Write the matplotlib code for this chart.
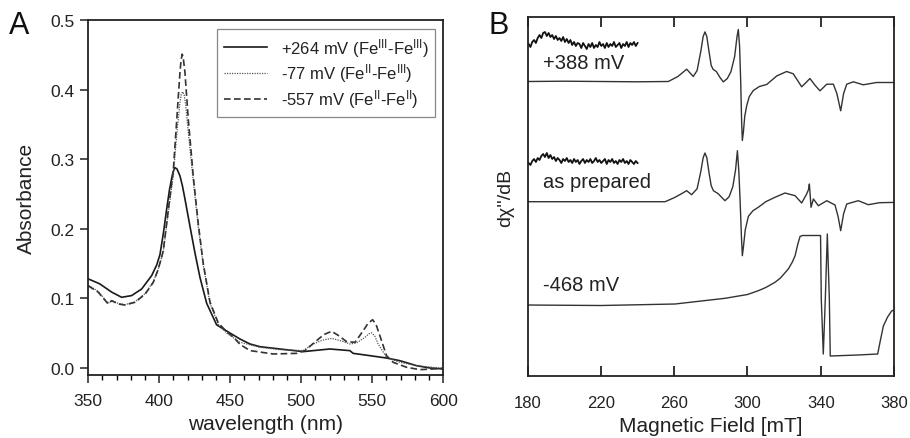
import numpy as np
import matplotlib
matplotlib.use("Agg")
import matplotlib.pyplot as plt

plt.rcParams['font.family'] = ['Liberation Sans', 'DejaVu Sans']
plt.rcParams['mathtext.fontset'] = 'custom'
plt.rcParams['mathtext.rm'] = 'Liberation Sans'
plt.rcParams['mathtext.it'] = 'Liberation Sans:italic'
plt.rcParams['mathtext.bf'] = 'Liberation Sans:bold'

# ---------------- Panel A data (UV-vis) ----------------
wl_ox = [350, 358, 366.5, 373.5, 380.5, 387.6, 394.6, 398.2, 400.5, 403, 405.2, 407.2, 408.7,
         409.8, 411, 412.5, 414.6, 416.3, 418.1, 421.6, 425.1, 428.7, 433.4, 440.4, 450,
         456.8, 463.9, 470.9, 485, 501.4, 520.2, 534.3, 536.6, 548.4, 560.1, 569.5, 581.3,
         590.6, 600]
abs_ox = [0.128, 0.121, 0.109, 0.1016, 0.104, 0.1135, 0.1326, 0.148, 0.163, 0.195, 0.228,
          0.256, 0.272, 0.282, 0.288, 0.286, 0.276, 0.262, 0.243, 0.204, 0.166, 0.13, 0.093,
          0.062, 0.05, 0.0417, 0.0345, 0.0306, 0.0273, 0.0235, 0.0273, 0.0249, 0.021, 0.0177,
          0.0143, 0.0105, 0.0033, 0.0, -0.0014]

wl_mid = [350, 357, 364, 366.5, 371, 375.8, 382.9, 390, 395.8, 399.3, 402.8, 406.3, 409.9,
          412.3, 414.6, 415.5, 416.5, 417.5, 418.5, 420.5, 424, 427.5, 431, 435.7, 441.5,
          447.5, 456.8, 470.9, 485, 501.4, 508.5, 515, 521.4, 528, 534.3, 539, 544.9, 547.5,
          549.6, 551.8, 554.2, 560.1, 569.5, 581.3, 600]
abs_mid = [0.119, 0.11, 0.093, 0.097, 0.093, 0.091, 0.095, 0.107, 0.124, 0.142, 0.167, 0.222,
           0.278, 0.335, 0.382, 0.393, 0.397, 0.393, 0.38, 0.338, 0.268, 0.203, 0.148, 0.093,
           0.063, 0.05, 0.037, 0.0297, 0.0263, 0.025, 0.0345, 0.040, 0.0426, 0.039, 0.0345,
           0.036, 0.044, 0.049, 0.0505, 0.046, 0.0345, 0.0153, 0.0081, 0.0033, -0.0005]

wl_red = [350, 357, 364, 366.5, 371, 375.8, 382.9, 390, 395.8, 399.3, 402.8, 406.3, 409.9,
          412.3, 414.6, 415.4, 416.2, 417, 418.1, 420.5, 424, 427.5, 431, 435.7, 441.5, 447.5,
          452, 456.8, 463.9, 480.3, 496.8, 502.6, 510.8, 516, 521.4, 526, 532, 537.9, 543.7,
          547, 550.3, 552.8, 555.4, 560.1, 564.8, 574.2, 583.6, 593, 600]
abs_red = [0.118, 0.109, 0.092, 0.0967, 0.092, 0.0905, 0.0944, 0.106, 0.123, 0.142, 0.168,
           0.226, 0.284, 0.356, 0.425, 0.443, 0.451, 0.444, 0.425, 0.356, 0.275, 0.207, 0.15,
           0.095, 0.065, 0.052, 0.045, 0.034, 0.025, 0.0201, 0.021, 0.025, 0.0393, 0.048,
           0.0527, 0.047, 0.0378, 0.0369, 0.0536, 0.064, 0.0694, 0.062, 0.0465, 0.0177, 0.0081,
           0.001, -0.0024, -0.0014, -0.0005]

labels_A = [r'+264 mV (Fe$^{\rm III}$-Fe$^{\rm III}$)',
            r'-77 mV (Fe$^{\rm II}$-Fe$^{\rm III}$)',
            r'-557 mV (Fe$^{\rm II}$-Fe$^{\rm II}$)']

# ---------------- Panel B data (EPR, arbitrary units) ----------------
# +388 mV
field_388 = [180, 200, 220, 240, 256.8, 262, 266.8, 270.4, 272.5, 274.5, 275.8, 276.8, 277.8,
             279, 280.2, 281.3, 283, 285, 286.8, 289, 291, 293, 294.3, 295, 295.7, 296.3,
             296.8, 297.2, 297.8, 298.5, 299.6, 301, 303.2, 306.5, 310.5, 316, 321.4, 325,
             329.6, 332, 334.1, 337, 339.6, 343.3, 346.9, 348.8, 350.9, 352.5, 354.2, 357.8,
             363.2, 370.5, 380]
sig_388 = [0, 0.3, 0, -0.3, 0, 5, 12.3, 5, 11, 30, 45, 49.6, 45, 30, 16, 12, 10, 4, -0.4, 3,
           10, 25, 45, 52, 35, 0, -40, -59, -50, -35, -24, -15, -9, -5, -3, 5.6, 10, 7.7, -5.3,
           -1, 3, -4, -9.3, -2.7, -2.7, -12, -29.3, -12, -2.7, -0.3, -3.3, -1, -1]

# as prepared
field_asp = [180, 220, 255, 260, 264, 266.8, 269.5, 272.5, 274.5, 275.8, 276.8, 277.8, 279,
             280.2, 281.4, 284, 287.7, 290, 292, 293.5, 294.5, 295.3, 296, 296.7, 297.2,
             297.8, 298.8, 300.5, 303, 305.9, 310, 315, 320.5, 326, 329.6, 332.3, 333.3,
             333.8, 334.3, 334.7, 336, 338.7, 343.3, 347.8, 349.5, 350.9, 352.5, 354.2, 360.5,
             366, 372, 380]
sig_asp = [0, 0, 0, 4, 8, 11, 7, 13, 30, 44, 48.7, 44, 29, 16, 11, 8, 1, 5, 15, 32, 51, 30, 0,
           -35, -54, -45, -28, -14.6, -9, -5.6, 0, 4.4, 8.7, 6, -1.3, 7.7, 12, 17.7, 5, -5.6,
           2.7, -4, 1, -3.3, -15, -29, -12, -2.3, 1, -3, -1, -0.7]

# -468 mV (absolute height)
field_468 = [180, 220, 260.4, 287.7, 300, 305.9, 310, 315, 318, 322.3, 324.5, 326, 327.5,
             328.7, 330, 339.9, 340.3, 341.4, 342.5, 343.6, 344.7, 345.2, 360, 371.1, 372.5,
             374.2, 376.5, 378.7, 380]
sig_468 = [71, 70.5, 72, 77.7, 81.5, 85.3, 88.5, 93.7, 98, 107, 114, 120.3, 132, 139.5,
           140.5, 140.5, 77, 22, 77, 142, 77, 20, 21, 22, 35, 50, 59, 65, 66]

# noisy zoomed insets (180-240 mT)
noise_388 = [332, 329, 334, 336, 333, 338, 341, 338, 343, 344, 340, 343, 339, 341, 337, 340,
             336, 338, 335, 339, 334, 337, 333, 336, 331, 334, 330, 333, 332, 328, 333, 330,
             327, 332, 329, 333, 328, 331, 329, 334, 330, 332, 328, 333, 329, 332, 330, 334,
             329, 331, 333, 328, 332, 330, 334, 329, 333, 331, 334, 330, 333]
noise_asp = [213, 211, 215, 217, 214, 218, 216, 220, 222, 219, 223, 218, 221, 217, 219, 215,
             218, 216, 213, 217, 215, 218, 214, 216, 213, 217, 214, 216, 212, 215, 217, 213,
             216, 214, 217, 213, 215, 218, 214, 216, 213, 215, 217, 212, 216, 214, 217, 213,
             215, 212, 216, 214, 217, 213, 215, 212, 216, 214, 212, 215, 213]

base_388 = 294.5
base_asp = 174.3
labels_B = ['+388 mV', 'as prepared', '-468 mV']

# ---------------- figure ----------------
fig = plt.figure(figsize=(9.10, 4.39), dpi=100)

# Panel A
axA = fig.add_axes([0.097, 0.1435, 0.390, 0.8085])
axA.plot(wl_ox, abs_ox, color='#1a1a1a', lw=1.2, ls='-', label=labels_A[0])
axA.plot(wl_mid, abs_mid, color='#555555', lw=0.9, ls=(0, (1, 1)), label=labels_A[1])
axA.plot(wl_red, abs_red, color='#333333', lw=1.2, ls=(0, (4, 2)), label=labels_A[2])
axA.set_xlim(350, 600)
axA.set_ylim(-0.0101, 0.5)
axA.set_xticks([350, 400, 450, 500, 550, 600])
axA.set_xticks(np.arange(350, 601, 10), minor=True)
axA.set_yticks([0.0, 0.1, 0.2, 0.3, 0.4, 0.5])
axA.yaxis.set_major_formatter(matplotlib.ticker.FormatStrFormatter('%.1f'))
axA.tick_params(axis='both', which='major', direction='out', length=6, width=1.1,
                labelsize=12.5, colors='#222222')
axA.tick_params(axis='x', which='minor', direction='out', length=3.5, width=1.0)
axA.tick_params(axis='x', which='major', pad=7)
axA.tick_params(axis='y', which='major', pad=4)
for s in axA.spines.values():
    s.set_linewidth(1.3)
    s.set_color('#222222')
axA.set_xlabel('wavelength (nm)', fontsize=15, labelpad=4, color='#222222')
axA.set_ylabel('Absorbance', fontsize=15, labelpad=10, color='#222222')
leg = axA.legend(loc='upper right', bbox_to_anchor=(0.978, 0.975), borderaxespad=0,
                 fontsize=12, handlelength=2.6, labelspacing=0.18, handletextpad=0.8,
                 borderpad=0.4, fancybox=False, framealpha=1, edgecolor='#888888')
leg.get_frame().set_linewidth(0.9)
for t in leg.get_texts():
    t.set_color('#222222')

# Panel B
axB = fig.add_axes([0.5799, 0.1412, 0.4025, 0.8178])
lcB = '#333333'
axB.plot(field_388, np.array(sig_388) + base_388, color=lcB, lw=1.0)
axB.plot(field_asp, np.array(sig_asp) + base_asp, color=lcB, lw=1.0)
axB.plot(field_468, sig_468, color=lcB, lw=1.0)
axB.plot(np.linspace(180.5, 240, len(noise_388)), noise_388, color='#111111', lw=1.3)
axB.plot(np.linspace(180.5, 240, len(noise_asp)), noise_asp, color='#111111', lw=1.3)
axB.set_xlim(180, 380)
axB.set_ylim(0, 359)
axB.set_xticks([180, 220, 260, 300, 340, 380])
axB.set_yticks([])
axB.tick_params(axis='x', which='major', direction='in', length=7, width=1.3,
                top=True, bottom=True, labelsize=12, pad=14, colors='#222222')
for s in axB.spines.values():
    s.set_linewidth(1.3)
    s.set_color('#222222')
axB.set_xlabel('Magnetic Field [mT]', fontsize=15, labelpad=4, color='#222222')
axB.set_ylabel("d\u03c7''/dB", fontsize=14, labelpad=10, color='#222222')
axB.text(188.5, 314, labels_B[0], fontsize=14.5, va='center', ha='left', color='#222222')
axB.text(188.5, 195, labels_B[1], fontsize=14.5, va='center', ha='left', color='#222222')
axB.text(188.5, 92, labels_B[2], fontsize=14.5, va='center', ha='left', color='#222222')

fig.text(0.010, 0.975, 'A', fontsize=22, va='top', ha='left', color='#111111')
fig.text(0.537, 0.975, 'B', fontsize=22, va='top', ha='left', color='#111111')

fig.savefig('out.png', dpi=100)
